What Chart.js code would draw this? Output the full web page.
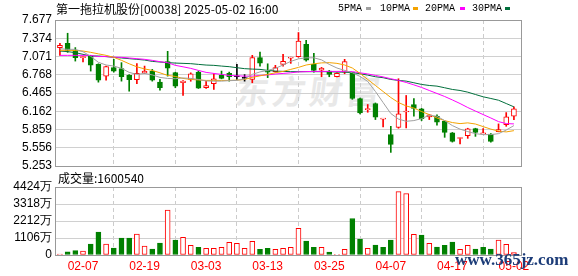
<!DOCTYPE html>
<html><head><meta charset="utf-8">
<script src="https://cdn.jsdelivr.net/npm/chart.js@4.4.1/dist/chart.umd.min.js"></script>
<style>
html,body{margin:0;padding:0;background:#fff;width:578px;height:276px;overflow:hidden;}
#wrap{position:relative;width:578px;height:276px;}
.abs{position:absolute;white-space:nowrap;}
canvas{position:absolute;left:0;}
#c1{top:0;}
#c2{top:170px;}
.sq{position:absolute;width:5px;height:3px;top:7px;}
.lg{position:absolute;top:2px;font:10px 'Liberation Mono';line-height:14px;color:#000;}
</style></head><body>
<div id="wrap">
<div class="abs" style="left:236px;top:70px;font:bold 33px 'Noto Sans CJK SC';line-height:40px;color:#e8e8e8;letter-spacing:4px;transform:skewX(-8deg);">东方财富</div>
<canvas id="c1" width="578" height="181"></canvas>
<canvas id="c2" width="578" height="106"></canvas>
<div class="abs" style="left:56px;top:0px;font:12px 'Noto Sans CJK SC';line-height:17px;color:#000">第一拖拉机股份[00038] 2025-05-02 16:00</div>
<div class="lg" style="left:338px">5PMA</div><div class="sq" style="left:366px;background:#a0a0a0"></div>
<div class="lg" style="left:380px">10PMA</div><div class="sq" style="left:413px;background:#f4a300"></div>
<div class="lg" style="left:425px">20PMA</div><div class="sq" style="left:460px;background:#ff00ff"></div>
<div class="lg" style="left:472px">30PMA</div><div class="sq" style="left:505px;background:#006f3c"></div>
<div class="abs" style="left:58px;top:169px;font:12px 'Noto Sans CJK SC';line-height:17px;color:#000">成交量:1600540</div>
<div class="abs" style="left:455px;top:251px;font:bold 17px 'Liberation Serif';line-height:17px;color:#1c3c78">www.365jz.com</div>
</div>
<script>
const dates = ['02-04','02-05','02-06','02-07','02-10','02-11','02-12','02-13','02-14','02-17','02-18','02-19','02-20','02-21','02-24','02-25','02-26','02-27','02-28','03-03','03-04','03-05','03-06','03-07','03-10','03-11','03-12','03-13','03-14','03-17','03-18','03-19','03-20','03-21','03-24','03-25','03-26','03-27','03-28','03-31','04-01','04-02','04-03','04-07','04-08','04-09','04-10','04-11','04-14','04-15','04-16','04-17','04-22','04-23','04-24','04-25','04-28','04-29','04-30','05-02'];
const openP  = [7.219,7.29,7.174,7.052,7.079,6.94,6.745,6.885,6.869,6.757,6.685,6.795,6.824,6.645,6.985,6.802,6.635,6.69,6.812,6.552,6.619,6.757,6.79,6.735,6.707,6.69,7.052,6.83,6.819,6.94,7.044,7.069,7.274,6.94,6.845,6.829,6.735,6.812,6.802,6.374,6.19,6.29,6.03,5.774,5.895,6.149,6.274,6.202,6.069,6.079,5.995,5.802,5.71,5.757,5.874,5.787,5.785,5.824,5.94,6.079];
const highP  = [7.29,7.457,7.219,7.069,7.09,6.95,6.91,7.024,6.969,6.77,6.952,6.912,6.857,6.69,7.157,6.81,6.67,6.80,6.83,6.66,6.785,6.829,6.812,6.94,6.77,7.09,7.145,6.95,6.924,7.107,7.06,7.469,7.34,7.124,6.89,6.84,6.80,7.024,6.81,6.38,6.274,6.30,6.04,5.912,6.702,6.424,6.374,6.21,6.11,6.102,6.00,5.81,5.72,5.88,5.88,5.874,5.79,5.952,6.14,6.235];
const lowP   = [7.09,7.14,6.995,6.979,6.829,6.645,6.679,6.812,6.662,6.495,6.619,6.79,6.662,6.512,6.745,6.552,6.424,6.66,6.54,6.54,6.524,6.70,6.662,6.69,6.662,6.635,6.912,6.72,6.81,6.912,6.957,7.06,6.995,6.812,6.735,6.735,6.73,6.785,6.36,6.119,6.145,6.024,5.902,5.479,5.88,5.885,6.079,6.007,6.024,5.929,5.729,5.65,5.619,5.712,5.745,5.787,5.65,5.82,5.912,6.024];
const closeP = [7.257,7.174,7.052,7.069,6.929,6.679,6.902,6.829,6.735,6.685,6.79,6.829,6.679,6.552,6.879,6.579,6.662,6.785,6.545,6.59,6.702,6.707,6.735,6.735,6.707,7.052,6.962,6.81,6.885,6.99,7.052,7.329,7.012,6.84,6.879,6.774,6.79,6.985,6.374,6.135,6.205,6.062,6.035,5.612,6.119,6.162,6.207,6.04,6.102,5.979,5.812,5.662,5.712,5.869,5.812,5.79,5.662,5.857,6.069,6.202];
const ma5  = [7.20,7.19,7.19,7.15,7.074,6.974,6.93,6.912,6.874,6.807,6.774,6.79,6.765,6.724,6.707,6.702,6.715,6.707,6.69,6.665,6.662,6.662,6.67,6.674,6.70,6.774,6.815,6.84,6.874,6.93,6.99,7.032,7.049,7.049,7.015,6.94,6.88,6.84,6.802,6.74,6.657,6.49,6.307,6.124,6.032,5.995,6.007,6.04,6.095,6.079,6.007,5.924,5.865,5.824,5.79,5.774,5.774,5.79,5.85,5.924];
const ma10 = [7.174,7.174,7.17,7.162,7.14,7.115,7.09,7.057,7.007,6.95,6.90,6.865,6.84,6.80,6.757,6.74,6.707,6.69,6.682,6.674,6.674,6.674,6.674,6.679,6.69,6.724,6.75,6.774,6.80,6.824,6.857,6.89,6.93,6.95,6.965,6.969,6.957,6.93,6.88,6.79,6.69,6.59,6.49,6.39,6.307,6.25,6.215,6.157,6.107,6.05,6.007,5.974,5.957,5.969,5.95,5.907,5.865,5.832,5.819,5.84];
const ma20 = [7.09,7.09,7.09,7.09,7.09,7.07,7.07,7.06,7.057,7.046,7.035,7.024,7.007,6.985,6.969,6.924,6.90,6.874,6.84,6.807,6.79,6.774,6.757,6.75,6.745,6.745,6.757,6.765,6.78,6.79,6.80,6.815,6.82,6.824,6.824,6.824,6.824,6.824,6.82,6.80,6.782,6.757,6.732,6.702,6.674,6.64,6.60,6.557,6.507,6.457,6.407,6.35,6.29,6.224,6.165,6.107,6.05,5.99,5.957,5.952];
const ma30 = [7.162,7.152,7.135,7.107,7.079,7.079,7.069,7.057,7.046,7.035,7.024,7.012,6.99,6.979,6.969,6.962,6.957,6.952,6.94,6.929,6.924,6.912,6.902,6.885,6.869,6.862,6.857,6.84,6.829,6.824,6.819,6.819,6.819,6.819,6.819,6.819,6.812,6.812,6.802,6.785,6.762,6.735,6.719,6.69,6.674,6.662,6.635,6.607,6.59,6.579,6.552,6.524,6.507,6.479,6.44,6.402,6.374,6.345,6.29,6.235];
const volume = [65,214,280,260,712,1490,712,453,1100,1100,1360,583,390,777,2915,970,1146,626,497,432,432,497,820,756,432,885,367,432,367,432,497,1727,907,497,497,194,43,367,2375,1036,432,648,497,972,4126,3996,1340,1295,756,518,626,842,367,626,389,497,389,972,691,160];
const volUp = [1,0,0,1,0,0,1,0,0,0,1,1,0,0,1,0,1,1,0,1,1,1,1,1,1,1,0,0,1,1,1,1,0,0,1,0,1,1,0,0,1,0,0,0,1,1,1,0,1,0,0,0,1,1,0,0,0,1,1,1];
const priceTicks = [5.253,5.556,5.859,6.162,6.465,6.768,7.071,7.374,7.677];
const priceTickLabels = ['5.253','5.556','5.859','6.162','6.465','6.768','7.071','7.374','7.677'];
const volTicks = [0,1106,2212,3318,4424];
const volTickLabels = ['0','1106万','2212万','3318万','4424万'];
const xTickIdx = [3,11,19,27,35,43,51,59];

const RED='#ff0000', GREEN='#008000', BLACK='#000000';
const XMIN=-0.64, XMAX=60.05;
Chart.defaults.font.family='Liberation Sans';

const candleColor = dates.map((d,i)=> closeP[i]>openP[i]?RED:(closeP[i]<openP[i]?GREEN:BLACK));
const bodyFill = dates.map((d,i)=> closeP[i]>openP[i]?'#ffffff':candleColor[i]);

const frame = {id:'frame', afterDraw(c){const a=c.chartArea,ctx=c.ctx;ctx.save();ctx.strokeStyle='#999999';ctx.lineWidth=1;
  ctx.strokeRect(Math.round(a.left)+0.5,Math.round(a.top)+0.5,Math.round(a.right)-Math.round(a.left)-1,Math.round(a.bottom)-Math.round(a.top));ctx.restore();}};

function maSet(arr,color){return {type:'line',data:arr.map((v,i)=>({x:i,y:v})),borderColor:color,borderWidth:1,pointRadius:0,tension:0,order:0};}

new Chart(document.getElementById('c1'),{
  type:'bar',
  data:{datasets:[
    {data:dates.map((d,i)=>({x:i,y:[lowP[i],highP[i]]})),backgroundColor:candleColor,borderWidth:0,barThickness:1,grouped:false,order:3},
    {data:dates.map((d,i)=>({x:i,y:[Math.min(openP[i],closeP[i]),Math.max(openP[i],closeP[i])]})),backgroundColor:bodyFill,borderColor:candleColor,borderWidth:1,borderSkipped:false,barThickness:5,minBarLength:1,grouped:false,order:2},
    maSet(ma5,'#a0a0a0'),maSet(ma10,'#f4a300'),maSet(ma20,'#ff00ff'),maSet(ma30,'#006f3c')
  ]},
  options:{responsive:false,animation:false,events:[],
    layout:{padding:{top:20,right:56,left:0,bottom:0}},
    plugins:{legend:{display:false},tooltip:{enabled:false}},
    scales:{
      x:{type:'linear',min:XMIN,max:XMAX,offset:false,
        afterBuildTicks:s=>{s.ticks=xTickIdx.map(v=>({value:v}));},
        ticks:{display:false},grid:{color:'#cccccc',drawTicks:false},border:{display:false,dash:[4,3]},
        afterFit:s=>{s.height=15;}},
      y:{min:5.253,max:7.677,
        afterBuildTicks:s=>{s.ticks=priceTicks.map(v=>({value:v}));},
        ticks:{callback:(v,i)=>priceTickLabels[i],color:'#000',font:{size:12},padding:3,autoSkip:false},
        grid:{color:'#d0d0d0',drawTicks:false},border:{display:false},
        afterFit:s=>{s.width=55;}}
    }},
  plugins:[frame]
});

new Chart(document.getElementById('c2'),{
  type:'bar',
  data:{datasets:[
    {data:volume.map((v,i)=>({x:i,y:v})),backgroundColor:volUp.map(u=>u?'#ffffff':GREEN),borderColor:volUp.map(u=>u?RED:GREEN),borderWidth:1,borderSkipped:false,barThickness:5,grouped:false}
  ]},
  options:{responsive:false,animation:false,events:[],
    layout:{padding:{top:17,right:56,left:0,bottom:0}},
    plugins:{legend:{display:false},tooltip:{enabled:false}},
    scales:{
      x:{type:'linear',min:XMIN,max:XMAX,offset:false,
        afterBuildTicks:s=>{s.ticks=xTickIdx.map(v=>({value:v}));},
        ticks:{callback:v=>dates[v],color:RED,font:{size:12},padding:4,maxRotation:0,autoSkip:false},
        grid:{color:'#cccccc',drawTicks:false},border:{display:false,dash:[4,3]},
        afterFit:s=>{s.height=21;}},
      y:{min:0,max:4424,
        afterBuildTicks:s=>{s.ticks=volTicks.map(v=>({value:v}));},
        ticks:{callback:(v,i)=>volTickLabels[i],color:'#000',font:{size:12},padding:3,autoSkip:false},
        grid:{color:'#d0d0d0',drawTicks:false},border:{display:false},
        afterFit:s=>{s.width=55;}}
    }},
  plugins:[frame]
});
</script>
</body></html>
